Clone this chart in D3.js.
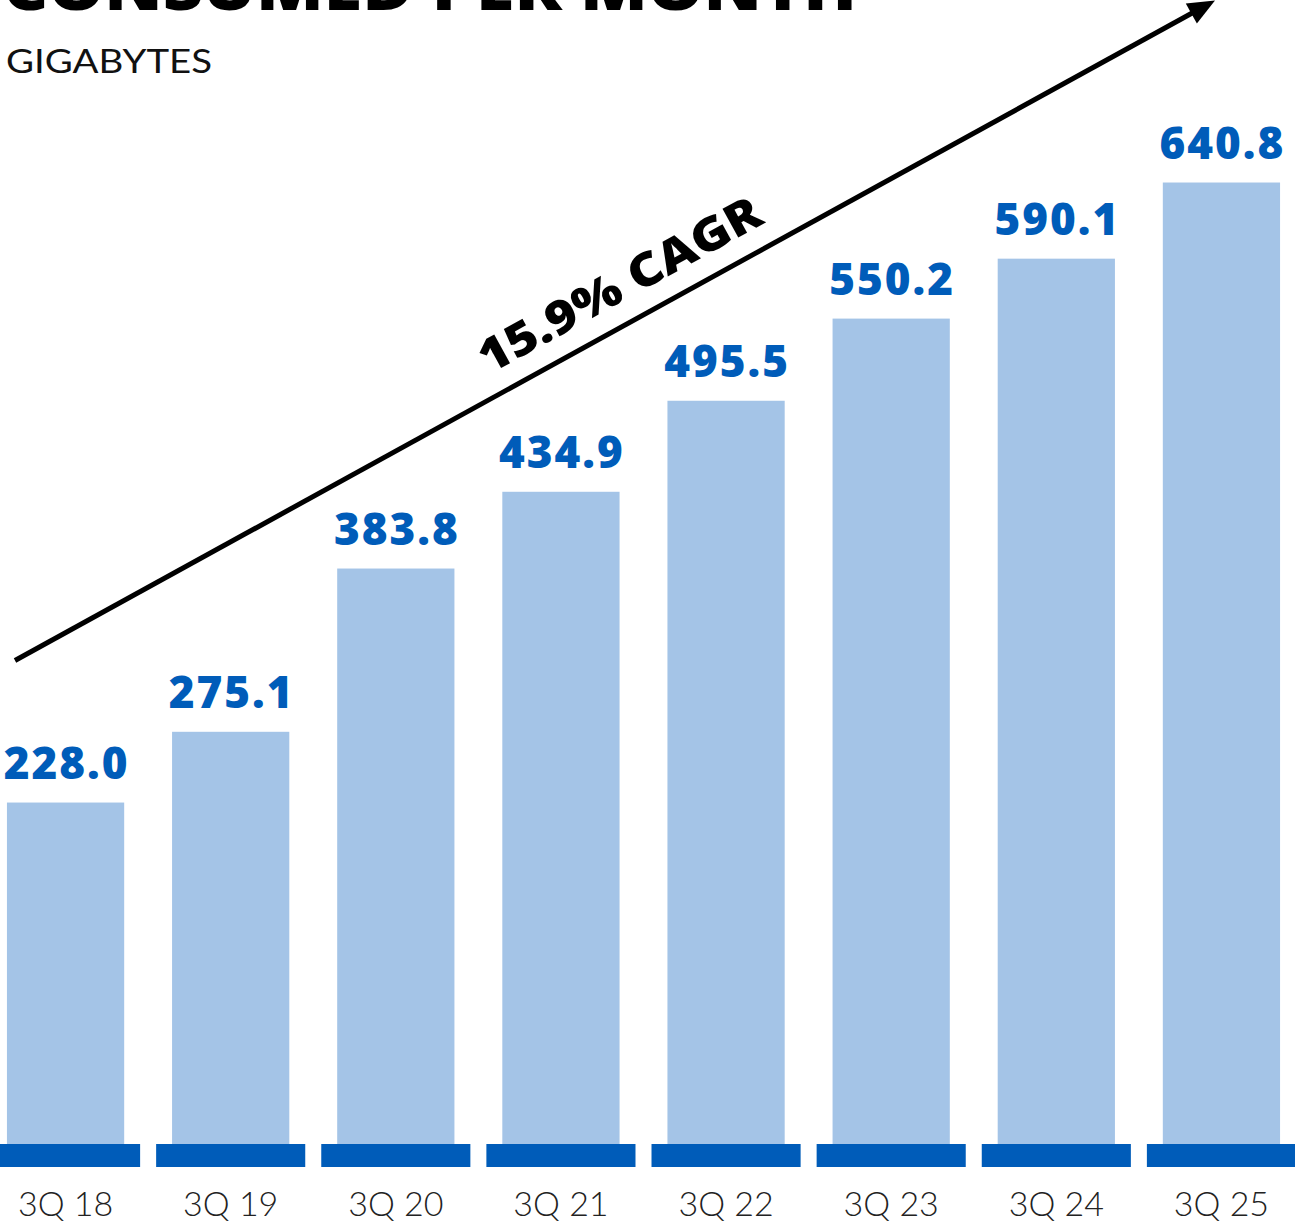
<!DOCTYPE html>
<html>
<head>
<meta charset="utf-8">
<script src="https://cdn.jsdelivr.net/npm/d3@7/dist/d3.min.js"></script>
<style>
  html, body { margin: 0; padding: 0; background: #ffffff; }
  svg { display: block; }
</style>
</head>
<body>
<svg id="chart" width="1295" height="1224"></svg>
<script>
// Quarterly data consumed per month, in gigabytes
const categories = ["3Q 18", "3Q 19", "3Q 20", "3Q 21", "3Q 22", "3Q 23", "3Q 24", "3Q 25"];
const values = [228.0, 275.1, 383.8, 434.9, 495.5, 550.2, 590.1, 640.8];
const valueLabels = ["228.0", "275.1", "383.8", "434.9", "495.5", "550.2", "590.1", "640.8"];
const titleText = "CONSUMED PER MONTH";
const unitText = "GIGABYTES";
const cagrText = "15.9% CAGR";

const svg = d3.select("#chart");

const BAR = "#a4c4e7";
const BASE = "#005cb9";
const LABEL = "#005cb9";

// Horizontal bands: one slot per quarter
const x = d3.scaleBand()
  .domain(categories)
  .range([-17, 1304])
  .padding(0);
const step = x.step();
const barW = step * 0.71;
const baseW = step * 0.903;
const cx = c => x(c) + step / 2;

// Vertical value scale
const y = d3.scaleLinear()
  .domain([0, 700])
  .range([1145, 1145 - 700 * 1.502]);

// Bars
svg.append("g")
  .selectAll("rect")
  .data(values)
  .join("rect")
  .attr("x", (d, i) => cx(categories[i]) - barW / 2)
  .attr("y", d => y(d))
  .attr("width", barW)
  .attr("height", d => y(0) - y(d))
  .attr("fill", BAR);

// Dark base strips under each bar
svg.append("g")
  .selectAll("rect")
  .data(categories)
  .join("rect")
  .attr("x", c => cx(c) - baseW / 2)
  .attr("y", y(0) - 1)
  .attr("width", baseW)
  .attr("height", 23)
  .attr("fill", BASE);

// Value labels above bars
svg.append("g")
  .selectAll("text")
  .data(values)
  .join("text")
  .attr("x", (d, i) => cx(categories[i]) + 1)
  .attr("y", d => y(d) - 24)
  .attr("text-anchor", "middle")
  .attr("font-family", "'Open Sans', sans-serif")
  .attr("font-weight", 800)
  .attr("font-size", 44)
  .attr("letter-spacing", 2)
  .attr("fill", LABEL)
  .text((d, i) => valueLabels[i]);

// Category labels
svg.append("g")
  .selectAll("text")
  .data(categories)
  .join("text")
  .attr("x", c => cx(c))
  .attr("y", 1216)
  .attr("text-anchor", "middle")
  .attr("font-family", "Lato, 'Open Sans', sans-serif")
  .attr("font-weight", 300)
  .attr("font-size", 34)
  .attr("fill", "#222222")
  .text(c => c);

// Growth arrow
const p0 = [15, 660.5], p1 = [1215, 0.5];
const dx = p1[0] - p0[0], dy = p1[1] - p0[1];
const len = Math.hypot(dx, dy);
const ux = dx / len, uy = dy / len;
const nx = uy, ny = -ux; // normal pointing up-left
const headLen = 27, headHalf = 11.5;
const bx = p1[0] - ux * headLen, by = p1[1] - uy * headLen;

svg.append("line")
  .attr("x1", p0[0]).attr("y1", p0[1])
  .attr("x2", bx + ux * 2).attr("y2", by + uy * 2)
  .attr("stroke", "#000")
  .attr("stroke-width", 5);

svg.append("path")
  .attr("d", `M${p1[0]},${p1[1]} L${bx + nx * headHalf},${by + ny * headHalf} L${bx - nx * headHalf},${by - ny * headHalf} Z`)
  .attr("fill", "#000");

// CAGR label running along the arrow
const angle = Math.atan2(dy, dx) * 180 / Math.PI;
const along = 711, offset = 22;
const tx = p0[0] + ux * along + nx * offset;
const ty = p0[1] + uy * along + ny * offset;
svg.append("text")
  .attr("transform", `translate(${tx},${ty}) rotate(${angle})`)
  .attr("text-anchor", "middle")
  .attr("font-family", "'Open Sans', sans-serif")
  .attr("font-weight", 800)
  .attr("font-size", 46)
  .attr("textLength", 316)
  .attr("lengthAdjust", "spacingAndGlyphs")
  .attr("fill", "#000")
  .text(cagrText);

// Title (its top edge runs off the page) and unit line
svg.append("text")
  .attr("x", 3)
  .attr("y", 10)
  .attr("font-family", "'Open Sans', sans-serif")
  .attr("font-weight", 800)
  .attr("font-size", 62)
  .attr("textLength", 854)
  .attr("lengthAdjust", "spacingAndGlyphs")
  .attr("fill", "#000")
  .text(titleText);

svg.append("text")
  .attr("x", 6)
  .attr("y", 73)
  .attr("font-family", "Lato, 'Open Sans', sans-serif")
  .attr("font-weight", 400)
  .attr("font-size", 32)
  .attr("textLength", 206)
  .attr("lengthAdjust", "spacingAndGlyphs")
  .attr("fill", "#111")
  .text(unitText);
</script>
</body>
</html>
